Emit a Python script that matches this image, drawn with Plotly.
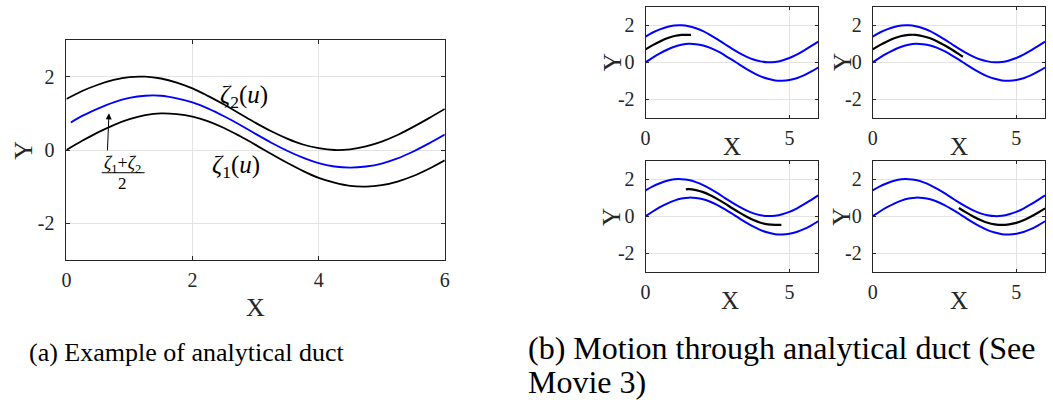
import plotly.graph_objects as go

# ---------------- data ----------------
x_grid = [0, 0.25, 0.5, 0.75, 1.0, 1.25, 1.5, 1.75, 2.0, 2.25, 2.5, 2.75, 3.0,
          3.25, 3.5, 3.75, 4.0, 4.25, 4.5, 4.75, 5.0, 5.25, 5.5, 5.75, 6.0]
zeta1 = [0.0, 0.25, 0.48, 0.68, 0.84, 0.95, 1.0, 0.98, 0.91, 0.78, 0.60, 0.38, 0.14,
         -0.11, -0.35, -0.57, -0.76, -0.89, -0.98, -1.0, -0.96, -0.86, -0.71, -0.51, -0.28]
zeta2 = [1.39, 1.61, 1.78, 1.91, 1.99, 2.0, 1.95, 1.84, 1.68, 1.47, 1.24, 0.99, 0.74,
         0.51, 0.31, 0.15, 0.05, 0.0, 0.02, 0.10, 0.23, 0.41, 0.63, 0.87, 1.12]
mid_x = [0.07, 0.25, 0.5, 0.75, 1.0, 1.25, 1.5, 1.75, 2.0, 2.25, 2.5, 2.75, 3.0,
         3.25, 3.5, 3.75, 4.0, 4.25, 4.5, 4.75, 5.0, 5.25, 5.5, 5.75, 6.0]
mid_y = [0.75, 0.93, 1.13, 1.30, 1.42, 1.48, 1.48, 1.41, 1.30, 1.13, 0.92, 0.69, 0.44,
         0.20, -0.02, -0.21, -0.36, -0.45, -0.48, -0.45, -0.37, -0.23, -0.04, 0.18, 0.42]

# black path snapshots (panel b)
path1_x = [0, 0.25, 0.5, 0.75, 1.0, 1.25, 1.58]
path1_y = [0.70, 0.93, 1.13, 1.30, 1.42, 1.48, 1.48]
path2_x = [0, 0.25, 0.5, 0.75, 1.0, 1.25, 1.5, 1.75, 2.0, 2.25, 2.5, 2.75, 3.0, 3.14]
path2_y = [0.70, 0.93, 1.13, 1.30, 1.42, 1.48, 1.48, 1.41, 1.30, 1.13, 0.92, 0.69, 0.44, 0.30]
path3_x = [1.4, 1.5, 1.75, 2.0, 2.25, 2.5, 2.75, 3.0, 3.25, 3.5, 3.75, 4.0, 4.25, 4.5, 4.72]
path3_y = [1.45, 1.46, 1.41, 1.30, 1.13, 0.92, 0.69, 0.44, 0.20, -0.02, -0.21, -0.36, -0.45, -0.48, -0.47]
path4_x = [3.0, 3.25, 3.5, 3.75, 4.0, 4.25, 4.5, 4.75, 5.0, 5.25, 5.5, 5.75, 6.0]
path4_y = [0.44, 0.20, -0.02, -0.21, -0.36, -0.45, -0.48, -0.45, -0.37, -0.23, -0.04, 0.18, 0.42]

y_ticks = [-2, 0, 2]
y_tick_text = ["-2", "0", "2"]
xa_ticks = [0, 2, 4, 6]
xa_tick_text = ["0", "2", "4", "6"]
xb_ticks = [0, 5]
xb_tick_text = ["0", "5"]

captions = ["(a) Example of analytical duct",
            "(b) Motion through analytical duct (See",
            "Movie 3)"]

# ---------------- styling ----------------
W, H = 1053, 400
FONT = "Liberation Serif"
AXCOL = "#262626"
GRID = "#e3e3e3"
BLUE = "#0000ff"


def px(x):
    return x / W


def py(y):
    return 1 - y / H


def axis(domain, anchor, rng, tickvals, ticktext, ticklen, standoff):
    return dict(domain=domain, anchor=anchor, range=rng, tickvals=tickvals,
                ticktext=ticktext, showline=True, mirror="ticks",
                linecolor=AXCOL, linewidth=1, ticks="inside", ticklen=ticklen,
                tickcolor=AXCOL, tickwidth=1, showgrid=True, gridcolor=GRID,
                gridwidth=1, zeroline=False, ticklabelstandoff=standoff,
                tickfont=dict(family=FONT, size=20, color=AXCOL))


fig = go.Figure()

# panel (a)
fig.add_trace(go.Scatter(x=x_grid, y=zeta2, mode="lines", line=dict(color="black", width=1.8, shape="spline"),
                         xaxis="x", yaxis="y", showlegend=False))
fig.add_trace(go.Scatter(x=mid_x, y=mid_y, mode="lines", line=dict(color=BLUE, width=1.8, shape="spline"),
                         xaxis="x", yaxis="y", showlegend=False))
fig.add_trace(go.Scatter(x=x_grid, y=zeta1, mode="lines", line=dict(color="black", width=1.8, shape="spline"),
                         xaxis="x", yaxis="y", showlegend=False))

# panel (b) small multiples
paths = [(path1_x, path1_y), (path2_x, path2_y), (path3_x, path3_y), (path4_x, path4_y)]
for i, (pxs, pys) in enumerate(paths):
    k = str(i + 2)
    for zz in (zeta2, zeta1):
        fig.add_trace(go.Scatter(x=x_grid, y=zz, mode="lines",
                                 line=dict(color=BLUE, width=2, shape="spline"),
                                 xaxis="x" + k, yaxis="y" + k, showlegend=False))
    fig.add_trace(go.Scatter(x=pxs, y=pys, mode="lines",
                             line=dict(color="black", width=2.2, shape="spline"),
                             xaxis="x" + k, yaxis="y" + k, showlegend=False))

layout = dict(width=W, height=H, margin=dict(l=0, r=0, t=0, b=0, pad=0),
              paper_bgcolor="white", plot_bgcolor="white", showlegend=False)

# domains (pixel positions of the axes boxes)
layout["xaxis"] = axis([px(62), px(444)], "y", [0, 6], xa_ticks, xa_tick_text, 4, 2)
layout["yaxis"] = axis([py(260), py(40)], "x", [-3, 3], y_ticks, y_tick_text, 4, 7)

small = [  # (left, right, top, bottom)
    (646.7, 821, 6.8, 117.8),
    (876, 1050, 6.8, 117.8),
    (646.7, 821, 160.7, 271.5),
    (876, 1050, 160.7, 271.5),
]
for i, (l, r, t, b) in enumerate(small):
    k = str(i + 2)
    layout["xaxis" + k] = axis([px(l), px(r)], "y" + k, [0, 6], xb_ticks, xb_tick_text, 3, 2)
    layout["yaxis" + k] = axis([py(b), py(t)], "x" + k, [-3, 3], y_ticks, y_tick_text, 3, 6)

fig.update_layout(**layout)

ann = []


def text(x, y, s, size, angle=0, xanchor="center", color=AXCOL):
    ann.append(dict(x=px(x), y=py(y), xref="paper", yref="paper", text=s, showarrow=False,
                    xanchor=xanchor, yanchor="middle", textangle=angle,
                    font=dict(family=FONT, size=size, color=color)))


# axis titles
text(253, 307, "X", 26)
text(18, 150, "Y", 26, angle=-90)
for (xx, xy, yx, yy) in [(733.5, 147, 613, 62), (962.7, 147, 845, 62),
                          (731.7, 300, 613, 216.7), (962.7, 300, 845, 216.7)]:
    text(xx, xy, "X", 25)
    text(yx, yy, "Y", 25, angle=-90)

# curve labels in panel (a)
ann.append(dict(x=2.82, y=1.45, xref="x", yref="y", showarrow=False,
                text="<i>ζ</i><sub>2</sub>(<i>u</i>)", xanchor="center", yanchor="middle",
                font=dict(family=FONT, size=25, color="black")))
ann.append(dict(x=2.69, y=-0.45, xref="x", yref="y", showarrow=False,
                text="<i>ζ</i><sub>1</sub>(<i>u</i>)", xanchor="center", yanchor="middle",
                font=dict(family=FONT, size=25, color="black")))
ann.append(dict(x=0.897, y=-0.40, xref="x", yref="y", showarrow=False,
                text="<i>ζ</i><sub>1</sub>+<i>ζ</i><sub>2</sub>", xanchor="center", yanchor="middle",
                font=dict(family=FONT, size=18, color="black")))
ann.append(dict(x=0.897, y=-0.90, xref="x", yref="y", showarrow=False,
                text="2", xanchor="center", yanchor="middle",
                font=dict(family=FONT, size=17, color="black")))
# arrow
ann.append(dict(x=0.675, y=1.0, ax=0.65, ay=-0.05, xref="x", yref="y", axref="x", ayref="y",
                text="", showarrow=True, arrowhead=2, arrowsize=1.2, arrowwidth=1,
                arrowcolor="black"))

# captions
text(22, 352, captions[0], 26, xanchor="left", color="black")
text(526, 348, captions[1], 32, xanchor="left", color="black")
text(526, 382, captions[2], 32, xanchor="left", color="black")

fig.update_layout(annotations=ann,
                  shapes=[dict(type="line", xref="x", yref="y", x0=0.56, x1=1.24, y0=-0.62, y1=-0.62,
                               line=dict(color="black", width=1))])

fig.write_html("out.html", config={"displayModeBar": False},
               post_script="document.body.style.margin='0px';document.body.style.overflow='hidden';")
